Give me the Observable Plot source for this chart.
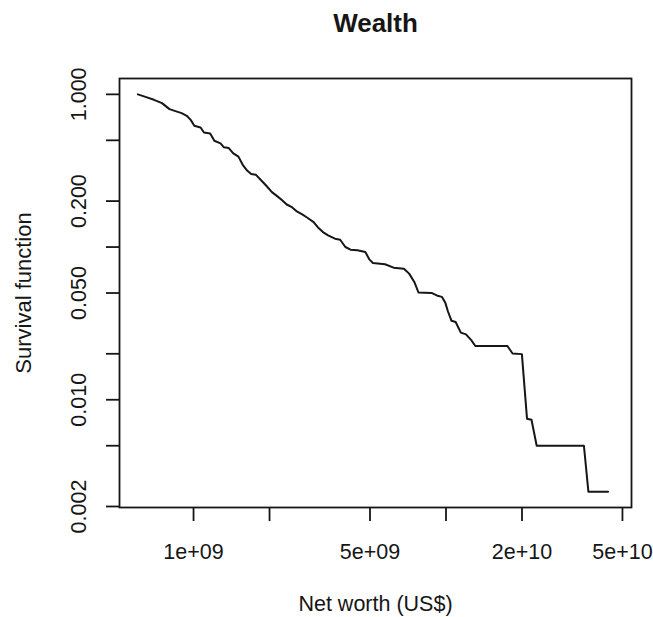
<!DOCTYPE html>
<html>
<head>
<meta charset="utf-8">
<script src="https://cdn.jsdelivr.net/npm/d3@7"></script>
<script src="https://cdn.jsdelivr.net/npm/@observablehq/plot@0.6"></script>
<style>
  html, body { margin: 0; padding: 0; background: #fff; }
  #chart svg { display: block; }
</style>
</head>
<body>
<div id="chart"></div>
<script>
// Net worth (US$) along the traced empirical survival curve
const netWorth = [
  6.02e8, 6.45e8, 6.97e8, 7.50e8, 8.03e8, 8.42e8, 8.97e8, 9.40e8, 9.76e8, 1.007e9,
  1.066e9, 1.100e9, 1.164e9, 1.209e9, 1.279e9, 1.320e9, 1.379e9, 1.437e9, 1.506e9, 1.564e9,
  1.630e9, 1.692e9, 1.763e9, 1.848e9, 1.938e9, 2.044e9, 2.143e9, 2.232e9, 2.340e9, 2.453e9,
  2.555e9, 2.695e9, 2.825e9, 2.990e9, 3.105e9, 3.255e9, 3.412e9, 3.633e9, 3.809e9, 3.994e9,
  4.186e9, 4.457e9, 4.790e9, 4.980e9, 5.135e9, 5.734e9, 6.200e9, 6.815e9, 7.145e9, 7.490e9,
  7.780e9, 8.760e9, 9.190e9, 9.630e9, 9.940e9, 1.019e10, 1.052e10, 1.092e10, 1.145e10, 1.200e10,
  1.259e10, 1.307e10, 1.751e10, 1.835e10, 1.998e10, 2.094e10, 2.181e10, 2.287e10, 3.518e10, 3.665e10,
  4.385e10
];
// Survival function values at those points
const survival = [
  1.0, 0.963, 0.921, 0.876, 0.800, 0.780, 0.754, 0.724, 0.678, 0.623,
  0.607, 0.563, 0.555, 0.497, 0.478, 0.450, 0.445, 0.411, 0.391, 0.347,
  0.317, 0.301, 0.298, 0.275, 0.253, 0.229, 0.2155, 0.204, 0.190, 0.1825,
  0.172, 0.1635, 0.1555, 0.1457, 0.135, 0.1254, 0.1193, 0.1134, 0.1117, 0.1001,
  0.0961, 0.0952, 0.0928, 0.0827, 0.0787, 0.0771, 0.0733, 0.0722, 0.0670, 0.0591,
  0.0504, 0.0501, 0.0482, 0.0472, 0.0431, 0.0377, 0.0329, 0.0323, 0.0275, 0.0268,
  0.0246, 0.0225, 0.0225, 0.0201, 0.0199, 0.0075, 0.0074, 0.005, 0.005, 0.0025,
  0.0025
];

const xTicks = [1e9, 2e9, 5e9, 1e10, 2e10, 5e10];
const xTickLabels = ["1e+09", "", "5e+09", "", "2e+10", "5e+10"];
const yTicks = [1, 0.5, 0.2, 0.1, 0.05, 0.02, 0.01, 0.005, 0.002];
const yTickLabels = ["1.000", "", "0.200", "", "0.050", "", "0.010", "", "0.002"];

const title = "Wealth";
const xTitle = "Net worth (US$)";
const yTitle = "Survival function";

const data = netWorth.map((v, i) => ({x: v, y: survival[i]}));
const xLab = xTicks.map((v, i) => ({v, t: xTickLabels[i]})).filter(d => d.t);
const yLab = yTicks.map((v, i) => ({v, t: yTickLabels[i]})).filter(d => d.t);

const ink = "#161616";
const font = "'Liberation Sans', Arial, Helvetica, sans-serif";

const chart = Plot.plot({
  width: 653,
  height: 617,
  marginTop: 78,
  marginBottom: 110,
  marginLeft: 119,
  marginRight: 22,
  style: {fontFamily: font, fontSize: "21px", color: ink, background: "#fff"},
  x: {type: "log", domain: [5.09e8, 5.43e10]},
  y: {type: "log", domain: [0.00197, 1.27]},
  marks: [
    Plot.frame({stroke: ink, strokeWidth: 1.8}),
    Plot.axisX(xTicks, {tickSize: 14, tickFormat: () => "", label: null, stroke: ink, strokeWidth: 1.8}),
    Plot.axisY(yTicks, {tickSize: 13, tickFormat: () => "", label: null, stroke: ink, strokeWidth: 1.8}),
    Plot.line(data, {x: "x", y: "y", stroke: ink, strokeWidth: 2}),
    Plot.text(xLab, {x: "v", text: "t", frameAnchor: "bottom", dy: 36, lineAnchor: "top", fontSize: 21.5, fill: ink}),
    Plot.text(yLab, {y: "v", text: "t", frameAnchor: "left", dx: -34, rotate: -90, lineAnchor: "bottom", textAnchor: "middle", fontSize: 21.5, fill: ink}),
    Plot.text([xTitle], {frameAnchor: "bottom", dy: 88, lineAnchor: "top", fontSize: 21.5, fill: ink}),
    Plot.text([yTitle], {frameAnchor: "left", dx: -89, rotate: -90, lineAnchor: "bottom", textAnchor: "middle", fontSize: 22, fill: ink}),
    Plot.text([title], {frameAnchor: "top", dy: -47, lineAnchor: "bottom", fontSize: 26, fontWeight: "bold", fill: ink})
  ]
});
document.getElementById("chart").appendChild(chart);
</script>
</body>
</html>
